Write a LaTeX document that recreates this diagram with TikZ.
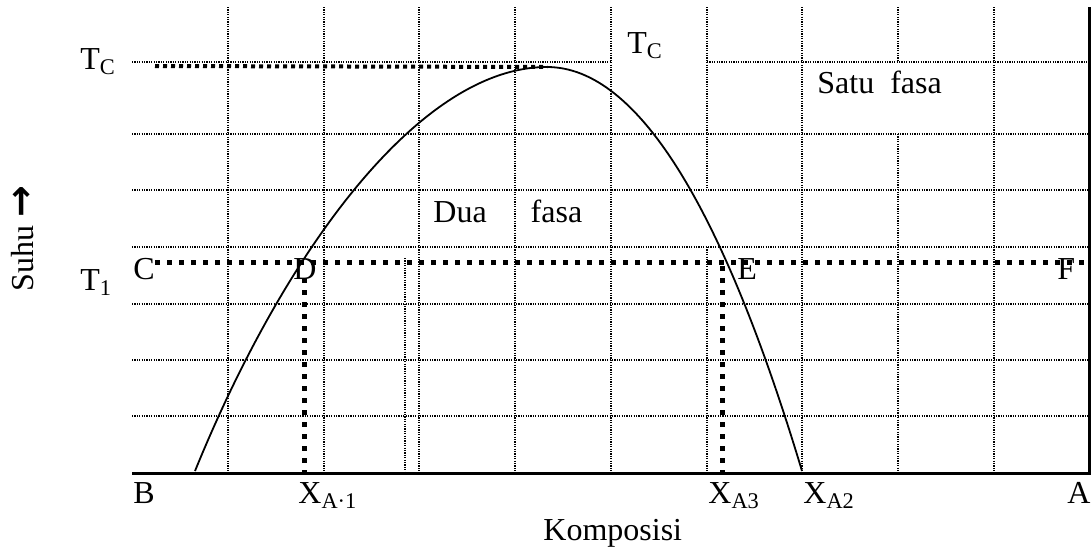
\documentclass[tikz,border=0pt]{standalone}
\usepackage{fontspec}
\setmainfont{Liberation Serif}
\newfontfamily\arrowfont{DejaVu Sans}
\usetikzlibrary{positioning}

\begin{document}
\begin{tikzpicture}[
			x=0.5pt, y=-0.5pt,
			gridline/.style={line width=0.6pt, dash pattern=on 0.6pt off 0.6pt},
			tcdot/.style={line width=2pt, dash pattern=on 2pt off 2pt},
			thickdot/.style={line width=2.5pt, dash pattern=on 2.5pt off 3.5pt},
			axis/.style={line width=1.5pt},
			curve/.style={line width=0.9pt},
			lbl/.style={inner sep=0pt, anchor=base west, font=\fontsize{16}{19}\selectfont}
			]
			\useasboundingbox (0,0) rectangle (1092,548);
			
			% grid
			\foreach \y in {134,190,247,304,360,416}
				\draw[gridline] (132,\y) -- (1089,\y);
			\draw[gridline] (132,62) -- (611,62) (707,62) -- (1089,62);
			\foreach \x in {228,324,419,515,611,802,994}
				\draw[gridline] (\x,7) -- (\x,473);
			\draw[gridline] (707,7) -- (707,188) (707,247) -- (707,473);
			\draw[gridline] (898,7) -- (898,62) (898,134) -- (898,473);
			\draw[gridline] (405,258) -- (405,473);
			
			\draw[axis] (132,473) -- (1089,473) -- (1089,7);
			
			\coordinate (lfoot) at (195,471);
			\coordinate (peak) at (547,67);
			\coordinate (rfoot) at (802,471);
			\draw[curve] (lfoot) .. controls (285,250) and (420,67) .. (peak)
				.. controls (640,67) and (725,215) .. (rfoot);
			
			\coordinate (ptD) at (304,262);
			\coordinate (ptE) at (722,262);
			\draw[tcdot] (155,66) -- (peak);
			\draw[thickdot] (155,262) -- (1089,262);
			\draw[thickdot] ([yshift=-8pt]ptD) -- (ptD |- 0,473);
			\draw[thickdot] ([yshift=-2pt]ptE) -- (ptE |- 0,473);
			
			\node[lbl] (tcleft) at (80,69) {T\textsubscript{C}};
			\node[lbl] (tctop) at (627,53) {T\textsubscript{C}};
			\node[lbl] (tone) at (80,290) {T\textsubscript{1}};
			\node[lbl] (satu) at (817,93) {Satu\ \ fasa};
			\node[lbl] (dua) at (433,222) {Dua\hspace{22pt}fasa};
			\node[lbl] (cpt) at (133,279) {C};
			\node[lbl] (dpt) at (293,279) {D};
			\node[lbl] (ept) at (737,279) {E};
			\node[lbl] (fpt) at (1057,279) {F};
			\node[lbl] (bpt) at (133,503) {B};
			\node[lbl] (xaone) at (298,503) {X\textsubscript{A·1}};
			\node[lbl] (xathree) at (708,503) {X\textsubscript{A3}};
			\node[lbl] (xatwo) at (803,503) {X\textsubscript{A2}};
			\node[lbl] (apt) at (1067,503) {A};
			\node[lbl] (komp) at (543,540) {Komposisi};
			\node[lbl, rotate=90] (suhu) at (33,292) {Suhu {\arrowfont\bfseries\fontsize{19}{19}\selectfont →}};
		\end{tikzpicture}
\end{document}
